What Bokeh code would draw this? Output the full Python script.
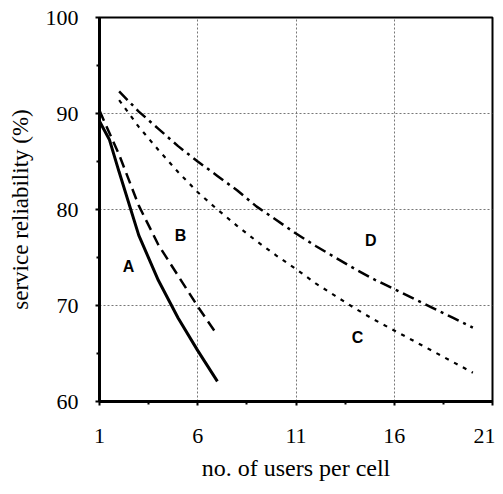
from bokeh.plotting import figure
from bokeh.models import Range1d, FixedTicker, Label
from bokeh.embed import file_html
from bokeh.resources import INLINE

# Data
a_x = [1, 1.5, 2, 3, 4, 5, 6, 7]
a_y = [89.2, 87.3, 83.9, 77.3, 72.6, 68.7, 65.3, 62.1]

b_x = [1, 1.5, 2, 3, 4, 5, 6, 7]
b_y = [90.3, 88.0, 85.7, 80.4, 76.3, 73.1, 69.9, 66.9]

c_x = [2, 3, 4, 5, 6, 7, 8, 9, 10, 11, 12, 13, 14, 15, 16, 17, 18, 19, 20]
c_y = [91.4, 88.6, 86.2, 83.9, 81.8, 80.0, 78.3, 76.7, 75.2, 73.8, 72.3,
       71.0, 69.7, 68.5, 67.4, 66.3, 65.2, 64.1, 63.0]

d_x = [2, 3, 4, 5, 6, 7, 8, 9, 10, 11, 12, 13, 14, 15, 16, 17, 18, 19, 20]
d_y = [92.3, 90.2, 88.4, 86.6, 85.0, 83.5, 82.0, 80.3, 78.9, 77.5, 76.2,
       75.0, 73.8, 72.7, 71.7, 70.7, 69.7, 68.7, 67.7]

curve_names = ["A", "B", "C", "D"]
label_x = [2.48, 5.12, 14.13, 14.8]
label_y = [74.1, 77.3, 66.7, 76.8]

x_ticks = [1, 6, 11, 16, 21]
x_minor = [3.5, 8.5, 13.5, 18.5]
y_ticks = [60, 70, 80, 90, 100]
y_minor = [65, 75, 85, 95]

p = figure(width=495, height=491, output_backend="svg", toolbar_location=None,
           x_range=Range1d(1, 21), y_range=Range1d(60, 100),
           min_border_left=99, min_border_right=3, min_border_top=17,
           min_border_bottom=90)

p.background_fill_color = "white"
p.border_fill_color = "white"
p.outline_line_color = "black"
p.outline_line_width = 2
p.outline_line_alpha = 1

p.xaxis.ticker = FixedTicker(ticks=x_ticks, minor_ticks=x_minor)
p.yaxis.ticker = FixedTicker(ticks=y_ticks, minor_ticks=y_minor)

for ax in (p.xaxis, p.yaxis):
    ax.axis_line_width = 3
    ax.axis_line_color = "black"
    ax.major_tick_in = 0
    ax.major_tick_out = 4
    ax.minor_tick_in = 0
    ax.minor_tick_out = 3
    ax.major_tick_line_width = 2
    ax.minor_tick_line_width = 2
    ax.major_tick_line_color = "black"
    ax.minor_tick_line_color = "black"
    ax.major_label_text_font = "Liberation Serif"
    ax.major_label_text_font_size = "22px"
    ax.major_label_text_color = "black"
    ax.axis_label_text_font = "Liberation Serif"
    ax.axis_label_text_font_style = "normal"
    ax.axis_label_text_color = "black"

p.xaxis.axis_label = "no. of users per cell"
p.yaxis.axis_label = "service reliability (%)"
p.xaxis.axis_label_text_font_size = "24px"
p.yaxis.axis_label_text_font_size = "23px"
p.xaxis.major_label_standoff = 23
p.yaxis.major_label_standoff = 17
p.xaxis.axis_label_standoff = 9
p.yaxis.axis_label_standoff = 10

for g in (p.xgrid, p.ygrid):
    g.grid_line_color = "#777777"
    g.grid_line_dash = "2 2"
    g.grid_line_width = 1

p.line(a_x, a_y, line_color="black", line_width=3)
p.line(b_x, b_y, line_color="black", line_width=2.5, line_dash="11 6")
p.line(c_x, c_y, line_color="black", line_width=2.2, line_dash="4 6")
p.line(d_x, d_y, line_color="black", line_width=2.5, line_dash="12 5 3 5")

for name, lx, ly in zip(curve_names, label_x, label_y):
    p.add_layout(Label(x=lx, y=ly, text=name, text_font="Liberation Sans",
                       text_font_style="bold", text_font_size="16px",
                       text_align="center", text_baseline="middle",
                       text_color="black"))

open("out.html", "w").write(file_html(p, INLINE))
